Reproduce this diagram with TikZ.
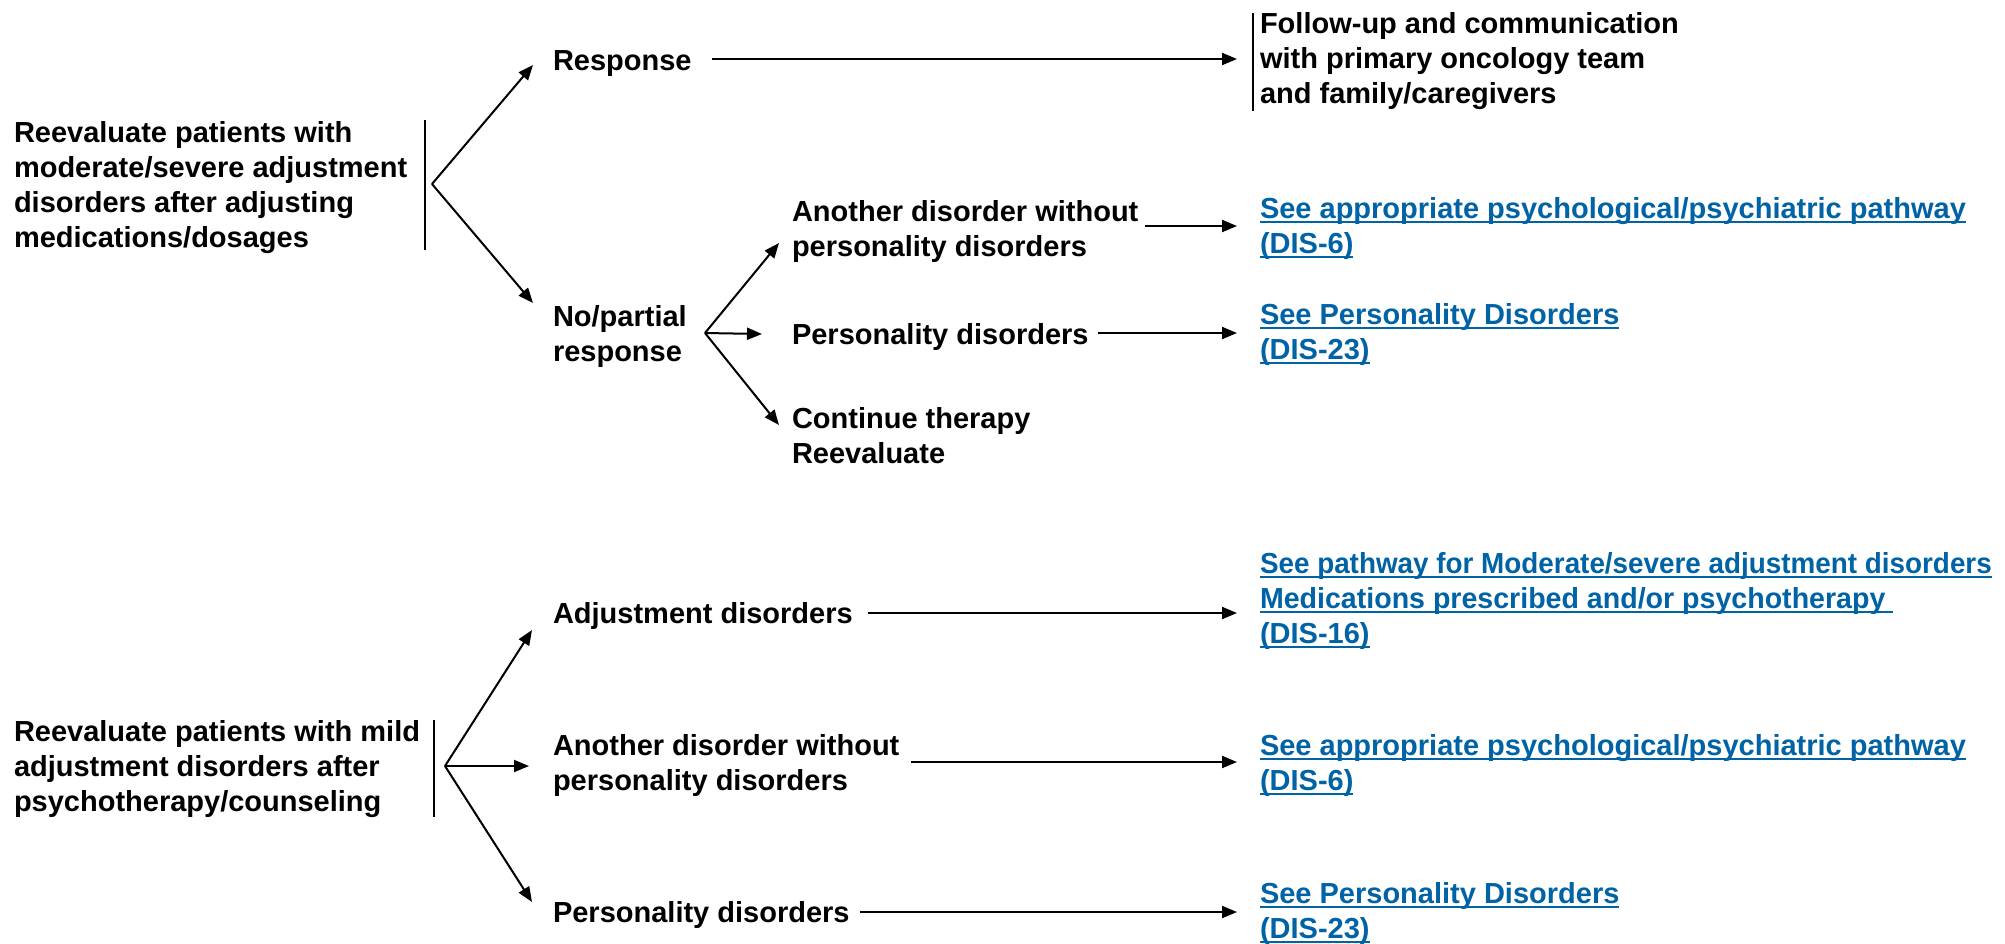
\documentclass[tikz,border=0pt]{standalone}
\usepackage{fontspec}
\setmainfont{Liberation Sans}
\usetikzlibrary{arrows.meta}
\definecolor{linkblue}{RGB}{0,99,166}
\newsavebox{\lnkbox}
\newcommand{\lnk}[1]{\sbox\lnkbox{#1}\rlap{\rule[-4.5pt]{\wd\lnkbox}{2pt}}\usebox\lnkbox}
\tikzset{
  txt/.style={inner sep=0pt, outer sep=0pt, anchor=west, align=left,
    font=\fontsize{29}{35}\selectfont\bfseries,
    execute at begin node=\strut, execute at end node=\strut},
  linktxt/.style={txt, text=linkblue},
  arr/.style={line width=2pt, -{Triangle[length=15pt,width=12pt]}},
  bar/.style={line width=2pt}
}
\begin{document}
\begin{tikzpicture}[x=1pt,y=-1pt]
\fill[white] (0,0) rectangle (2005,943);
\useasboundingbox (0,0) rectangle (2005,943);

% ---------- top tree ----------
\node[txt] (A) at (14,190) {Reevaluate patients with\\moderate/severe adjustment\\disorders after adjusting\\medications/dosages};
\draw[bar] (425,120) -- (425,250);
\coordinate (b1) at (432,184);

\node[txt] (R) at (553,63) {Response};
\node[txt] (NP) at (553,338.5) {No/partial\\response};
\coordinate (tR) at (533,65);
\coordinate (tNP) at (533,303);
\draw[arr] (b1) -- (tR);
\draw[arr] (b1) -- (tNP);

\node[txt] (F) at (1260,63) {Follow-up and communication\\with primary oncology team\\and family/caregivers};
\draw[bar] (1253,13) -- (1253,111);
\draw[arr] ([xshift=20pt,yshift=4pt]R.east) -- ([xshift=-23pt,yshift=4pt]R.east -| F.west);

\coordinate (b2) at (705,333);
\node[txt] (AD1) at (792,233.5) {Another disorder without\\personality disorders};
\node[txt] (PD1) at (792,337) {Personality disorders};
\node[txt] (CT) at (792,440.5) {Continue therapy\\Reevaluate};
\coordinate (tAD1) at (779,243);
\coordinate (tPD1) at (762,334);
\coordinate (tCT) at (779,425);
\draw[arr] (b2) -- (tAD1);
\draw[arr] (b2) -- (tPD1);
\draw[arr] (b2) -- (tCT);

\node[linktxt] (L1) at (1260,230.5) {\lnk{See appropriate psychological/psychiatric pathway}\\\lnk{(DIS-6)}};
\node[linktxt] (L2) at (1260,336.5) {\lnk{See Personality Disorders}\\\lnk{(DIS-23)}};
\draw[arr] ([xshift=7pt,yshift=7.5pt]AD1.east) -- ([xshift=-23pt,yshift=7.5pt]AD1.east -| L1.west);
\draw[arr] ([xshift=9pt,yshift=4pt]PD1.east) -- ([xshift=-23pt,yshift=4pt]PD1.east -| L2.west);

% ---------- bottom tree ----------
\node[txt] (B) at (14,771) {Reevaluate patients with mild\\adjustment disorders after\\psychotherapy/counseling};
\draw[bar] (434,720) -- (434,817);
\coordinate (b3) at (445,766);

\node[txt] (AJ) at (553,616) {Adjustment disorders};
\node[txt] (AD2) at (553,767.5) {Another disorder without\\personality disorders};
\node[txt] (PD2) at (553,915) {Personality disorders};
\coordinate (tAJ) at (532,630);
\coordinate (tAD2) at (529,766);
\coordinate (tPD2) at (532,902);
\draw[arr] (b3) -- (tAJ);
\draw[arr] (b3) -- (tAD2);
\draw[arr] (b3) -- (tPD2);

\node[linktxt] (L3) at (1260,603) {\scalebox{0.96}[1]{\lnk{See pathway for Moderate/severe adjustment disorders}}\\\scalebox{0.985}[1]{\lnk{Medications prescribed and/or psychotherapy\ }}\\\lnk{(DIS-16)}};
\node[linktxt] (L4) at (1260,767.5) {\lnk{See appropriate psychological/psychiatric pathway}\\\lnk{(DIS-6)}};
\node[linktxt] (L5) at (1260,915.5) {\lnk{See Personality Disorders}\\\lnk{(DIS-23)}};
\draw[arr] ([xshift=15pt,yshift=3pt]AJ.east) -- ([xshift=-23pt,yshift=3pt]AJ.east -| L3.west);
\draw[arr] ([xshift=12pt,yshift=5.5pt]AD2.east) -- ([xshift=-23pt,yshift=5.5pt]AD2.east -| L4.west);
\draw[arr] ([xshift=10pt,yshift=3pt]PD2.east) -- ([xshift=-23pt,yshift=3pt]PD2.east -| L5.west);
\end{tikzpicture}
\end{document}
